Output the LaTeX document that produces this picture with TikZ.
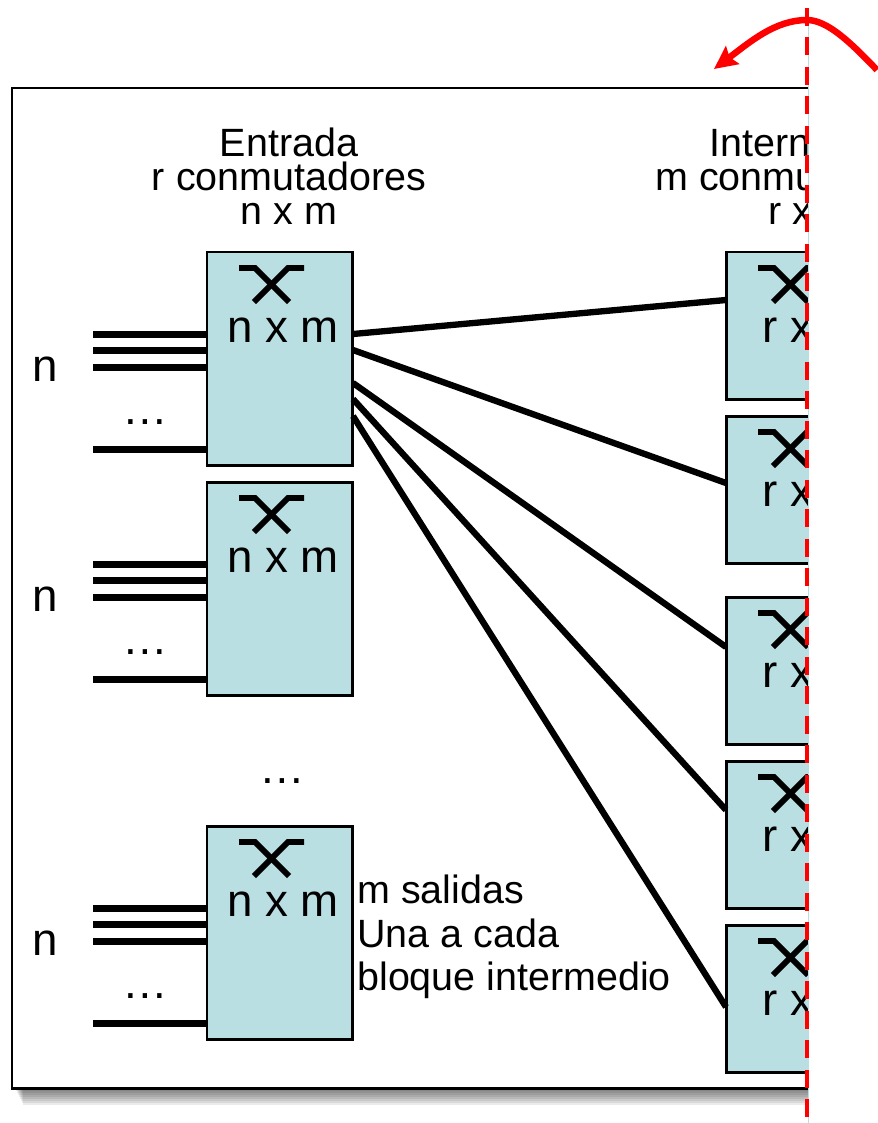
\documentclass[tikz,border=0pt]{standalone}
\usepackage{fontspec}
\setmainfont{Liberation Sans}
\usetikzlibrary{calc,arrows.meta}
\definecolor{swfill}{RGB}{185,223,227}
\tikzset{
	swbox/.style={draw=black,fill=swfill,line width=1.7pt,anchor=north west,outer sep=0pt,inner sep=0pt,minimum width=2.92cm},
	wire/.style={line width=3.6pt},
	swicon/.style={line width=3.4pt},
	redline/.style={draw=red,line width=2.7pt},
	title/.style={font=\fontsize{22.45}{26}\selectfont,inner sep=0pt,anchor=base},
	titlew/.style={title,anchor=base west},
	big/.style={font=\fontsize{26}{30}\selectfont,inner sep=0pt,anchor=base},
	bigw/.style={big,anchor=base west}
}
\newcommand{\swicons}[1]{
	\draw[swicon] ($(#1.north west)+(32,16)$) -- ($(#1.north west)+(48,16)$) -- ($(#1.north west)+(82,50)$);
	\draw[swicon] ($(#1.north west)+(97,16)$) -- ($(#1.north west)+(81,16)$) -- ($(#1.north west)+(47,50)$);
}
\newcommand{\enode}[2]{
	\node[swbox,minimum height=4.28cm] (#2) at (207,#1) {};
	\swicons{#2}
	\node[big] (#2t) at ($(#2.north west)+(76,90)$) {n x m};
	\foreach \d/\w in {82.5/a,98.5/b,115.5/c,197.5/d}{
		\coordinate (#2i\w) at ($(#2.north west)+(-114,\d)$);
		\draw[wire] (#2i\w) -- (#2i\w -| #2.west);
	}
	\node[big] (#2n) at ($(#2.north west)+(-162,129)$) {n};
	\node[big] (#2d) at ($(#2.north west)+(-62,172)$) {…};
}
\newcommand{\mnode}[2]{
	\node[swbox,minimum height=2.96cm] (#2) at (726,#1) {};
	\swicons{#2}
	\node[bigw] (#2t) at ($(#2.north west)+(36,90)$) {r x};
}
\newcommand{\pledge}[4]{\draw[wire] ($(#1.north east)+(0,#2)$) -- ($(#3.north west)+(0,#4)$);}

\begin{document}
\begin{tikzpicture}[x=0.02cm,y=-0.02cm]
	\useasboundingbox (0,0) rectangle (877,1123);
	\begin{scope}
		\clip (0,0) rectangle (808,1123);
		% shadow, then frame
		\foreach \s in {1,...,8}{
			\fill[black,opacity=0.08] (15+\s,100) rectangle (900,1089+2*\s);
		}
		\node[draw=black,fill=white,line width=1.5pt,anchor=north west,outer sep=0pt,minimum width=18cm,minimum height=20.02cm] (frame) at (12,88) {};
		\node[title] (et1) at (289,156) {Entrada};
		\node[title] (et2) at (289,190) {r conmutadores};
		\node[title] (et3) at (289,224) {n x m};
		\node[titlew] (mt1) at (709,156) {Intern};
		\node[titlew] (mt2) at (655,190) {m conmu};
		\node[titlew] (mt3) at (768,224) {r x};
		\enode{252}{e1} \enode{482}{e2} \enode{826}{e3}
		\mnode{252}{m1} \mnode{416}{m2} \mnode{597}{m3} \mnode{761}{m4} \mnode{925}{m5}
		\pledge{e1}{82}{m1}{48} \pledge{e1}{98}{m2}{67} \pledge{e1}{131}{m3}{50}
		\pledge{e1}{147}{m4}{49} \pledge{e1}{164}{m5}{82}
		\node[big] (dots) at (282,783) {…};
		\node[titlew] (s1) at (357,903) {m salidas};
		\node[titlew] (s2) at (357,947) {Una a cada};
		\node[titlew] (s3) at (357,990) {bloque intermedio};
	\end{scope}
	\coordinate (pt) at (808.5,20);
	\coordinate (pb) at (808.5,1123);
	\coordinate (rt) at (807,8);
	\coordinate (rb) at (807,1123);
	\coordinate (ca) at (877,70);
	\coordinate (cb) at (807,20);
	\coordinate (cc) at (714,69);
	\draw[swfill,line width=0.8pt] (pt) -- (pb);
	\draw[redline,dash pattern=on 0.36cm off 0.23cm] (rt) -- (rb);
	\draw[redline,line width=3.7pt,-{Stealth[length=0.46cm,width=0.44cm,inset=0.07cm]}] (ca) .. controls (852,44) and (828,20) .. (cb) .. controls (775,20) and (750,42) .. (cc);
\end{tikzpicture}
\end{document}
